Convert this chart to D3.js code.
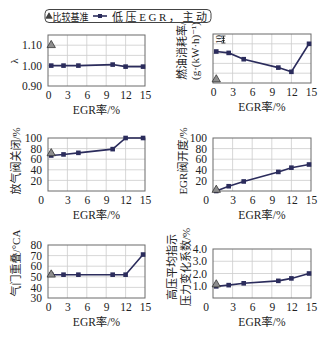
<!DOCTYPE html>
<html><head><meta charset="utf-8">
<script src="https://cdn.jsdelivr.net/npm/d3@7/dist/d3.min.js"></script>
<style>
html,body{margin:0;padding:0;background:#fff;}
svg{display:block;}
text{font-family:"Liberation Serif","DejaVu Serif","Noto Sans CJK SC",serif;fill:#222;}
</style></head>
<body><svg id="c" width="334" height="344"></svg>
<script>
// ---- data ----
const egrRates = [0.5, 2.4, 4.7, 10, 12, 14.7];
const baselineEgr = 0.5;
const lambdaVals = [1.00, 1.00, 1.00, 1.005, 0.995, 0.995];
const lambdaBase = 1.10;
const bsfcVals = [45, 43, 34, 22, 16, 56];   // relative, 10 units per scale mark
const bsfcBase = 5;
const wastegateVals = [67, 69, 72, 79, 100, 100];
const wastegateBase = 71;
const egrValveVals = [0, 9, 18, 36, 44, 50];
const egrValveBase = 2;
const overlapVals = [52, 52, 52, 52, 52, 71];
const overlapBase = 52;
const covVals = [0.95, 1.05, 1.2, 1.4, 1.6, 2.0];
const covBase = 1.1;
const xTicksFull = [0, 3, 6, 9, 12, 15];
const xTicksNoZero = [3, 6, 9, 12, 15];
const legendLabels = ["比较基准", "低压EGR，主动"];
const xTitle = "EGR率/%";

const svg = d3.select("#c");
const lineColor = "#2b2c5c";

const panels = [
  {box:[48,145,35,86], dom:[0.9,1.15], ticks:[0.9,1.0,1.1], fmt:".2f", grid:[0.95,1.0,1.05,1.1],
   vals:lambdaVals, base:lambdaBase, xt:xTicksFull, zero:false,
   title:["λ"], tx:[14], ty:61},
  {box:[213,311,34,83], dom:[0,70], ticks:[], fmt:"", grid:[14,28,42,56],
   vals:bsfcVals, base:bsfcBase, xt:xTicksFull, zero:false,
   title:["燃油消耗率/","(g·(kW·h)⁻¹)"], tx:[182,195], ty:51, scaleMark:true},
  {box:[48,145,138,191], dom:[0,100], ticks:[20,40,60,80,100], fmt:"d", grid:[20,40,60,80],
   vals:wastegateVals, base:wastegateBase, xt:xTicksNoZero, zero:true,
   title:["放气阀关闭/%"], tx:[16], ty:161},
  {box:[213,311,138,191], dom:[0,100], ticks:[20,40,60,80,100], fmt:"d", grid:[20,40,60,80],
   vals:egrValveVals, base:egrValveBase, xt:xTicksNoZero, zero:true,
   title:["EGR阀开度/%"], tx:[183], ty:161},
  {box:[48,145,245,298], dom:[30,80], ticks:[30,40,50,60,70,80], fmt:"d", grid:[40,50,60,70],
   vals:overlapVals, base:overlapBase, xt:xTicksFull, zero:false,
   title:["气门重叠/°CA"], tx:[16], ty:263},
  {box:[213,311,249,298], dom:[0,4], ticks:[1,2,3,4], fmt:".1f", grid:[1,2,3],
   vals:covVals, base:covBase, xt:xTicksNoZero, zero:true,
   title:["高压平均指示","压力变化系数/%"], tx:[172,186], ty:267},
];

panels.forEach(p => {
  const [x0,x1,yt,yb] = p.box;
  const x = d3.scaleLinear([0,15],[x0,x1]);
  const y = d3.scaleLinear(p.dom,[yb,yt]);
  const g = svg.append("g");
  // grid
  g.selectAll(".vg").data([3,6,9,12]).join("line")
    .attr("x1",d=>x(d)).attr("x2",d=>x(d)).attr("y1",yt).attr("y2",yb)
    .attr("stroke","#cdcdcd").attr("stroke-width",0.8);
  g.selectAll(".hg").data(p.grid).join("line")
    .attr("x1",x0).attr("x2",x1).attr("y1",d=>y(d)).attr("y2",d=>y(d))
    .attr("stroke","#cdcdcd").attr("stroke-width",0.8);
  g.append("rect").attr("x",x0).attr("y",yt).attr("width",x1-x0).attr("height",yb-yt)
    .attr("fill","none").attr("stroke","#6a6a6a").attr("stroke-width",1);
  // axes
  const xa = g.append("g").attr("transform",`translate(0,${yb})`)
    .call(d3.axisBottom(x).tickValues(p.xt).tickSize(0).tickPadding(5).tickFormat(d3.format("d")));
  xa.select(".domain").remove();
  xa.selectAll("text").attr("font-size",11.5).style("font-family",'"Liberation Serif",serif').attr("fill","#222");
  if (p.ticks.length) {
    const ya = g.append("g").attr("transform",`translate(${x0},0)`)
      .call(d3.axisLeft(y).tickValues(p.ticks).tickSize(0).tickPadding(6).tickFormat(d3.format(p.fmt)));
    ya.select(".domain").remove();
    ya.selectAll("text").attr("font-size",11.5).style("font-family",'"Liberation Serif",serif').attr("fill","#222");
  }
  if (p.zero) {
    g.append("text").attr("x",x0-7).attr("y",yb+5).attr("dy","0.71em")
      .attr("text-anchor","middle").attr("font-size",11.5).text("0");
  }
  // x title
  g.append("text").attr("x",(x0+x1)/2).attr("y",yb+28).attr("text-anchor","middle")
    .attr("font-size",11.5).text(xTitle);
  // y title
  p.title.forEach((t,i)=>{
    g.append("text").attr("transform",`translate(${p.tx[i]},${p.ty}) rotate(-90)`)
      .attr("text-anchor","middle").attr("dy","0.35em").attr("font-size",11).text(t);
  });
  // scale mark for bsfc
  if (p.scaleMark) {
    const ax = x(1.6);
    const ya1 = y(70)+2, ya2 = y(60)+2;
    g.append("line").attr("x1",ax).attr("x2",ax).attr("y1",ya1).attr("y2",ya2).attr("stroke","#222").attr("stroke-width",0.8);
    g.append("line").attr("x1",ax-2).attr("x2",ax+2).attr("y1",ya1).attr("y2",ya1).attr("stroke","#222").attr("stroke-width",0.8);
    g.append("line").attr("x1",ax-2).attr("x2",ax+2).attr("y1",ya2).attr("y2",ya2).attr("stroke","#222").attr("stroke-width",0.8);
    g.append("path").attr("d",`M${ax},${ya1+0.5}l-1.5,2.5h3z M${ax},${ya2-0.5}l-1.5,-2.5h3z`).attr("fill","#222");
    g.append("text").attr("transform",`translate(${ax-5},${(ya1+ya2)/2}) rotate(-90)`)
      .attr("text-anchor","middle").attr("dy","0.35em").attr("font-size",9).text("10");
  }
  // line
  const pts = egrRates.map((e,i)=>[e,p.vals[i]]);
  g.append("path").datum(pts)
    .attr("d",d3.line().x(d=>x(d[0])).y(d=>y(d[1])))
    .attr("fill","none").attr("stroke",lineColor).attr("stroke-width",1.6);
  g.selectAll(".sq").data(pts).join("rect")
    .attr("x",d=>x(d[0])-2.3).attr("y",d=>y(d[1])-2.3).attr("width",4.6).attr("height",4.6)
    .attr("fill",lineColor);
  g.append("path").attr("d",d3.symbol(d3.symbolTriangle,30)())
    .attr("transform",`translate(${x(baselineEgr)},${y(p.base)})`)
    .attr("fill","#8e8e8e").attr("stroke","#333").attr("stroke-width",0.8);
});

// legend
const lg = svg.append("g");
lg.append("rect").attr("x",45).attr("y",9.5).attr("width",166).attr("height",13).attr("rx",4)
  .attr("fill","#fff").attr("stroke","#444").attr("stroke-width",1);
lg.append("path").attr("d",d3.symbol(d3.symbolTriangle,18)()).attr("transform","translate(49,16.5)")
  .attr("fill","#444").attr("stroke","#222").attr("stroke-width",0.6);
lg.append("text").attr("x",52.5).attr("y",20.5).attr("font-size",10.5)
  .attr("textLength",36).attr("lengthAdjust","spacingAndGlyphs").text(legendLabels[0]);
lg.append("line").attr("x1",93).attr("x2",107).attr("y1",16).attr("y2",16).attr("stroke",lineColor).attr("stroke-width",1.6);
lg.append("rect").attr("x",98).attr("y",14).attr("width",4).attr("height",4).attr("fill",lineColor);
lg.append("text").attr("x",112).attr("y",20.5).attr("font-size",11)
  .attr("textLength",95).attr("lengthAdjust","spacing").text(legendLabels[1]);
</script></body></html>
